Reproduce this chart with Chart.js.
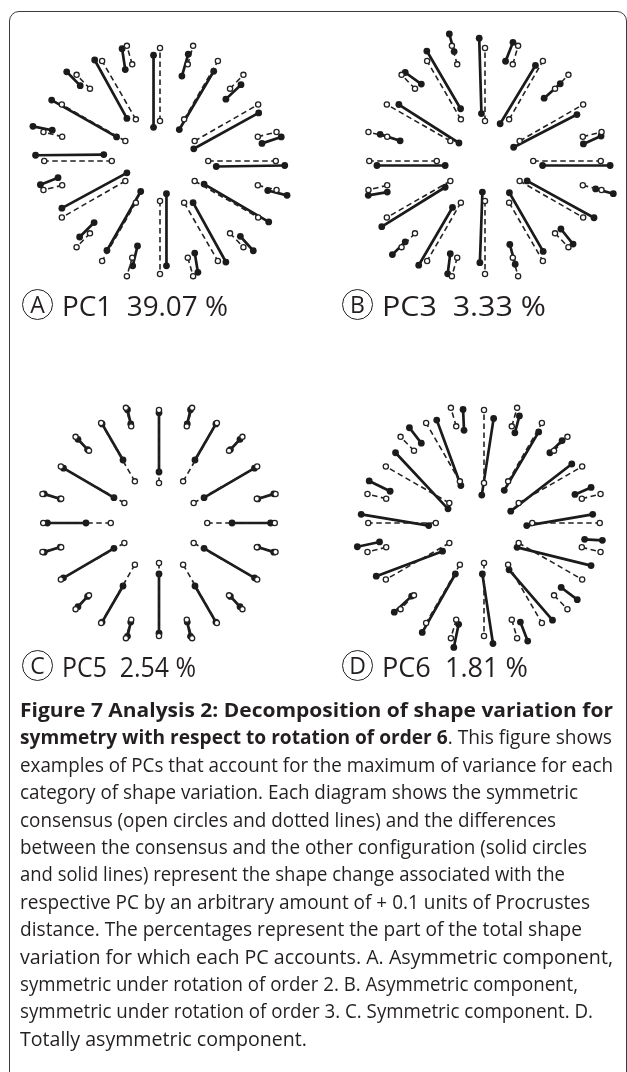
<!DOCTYPE html>
<html>
<head>
<meta charset="utf-8">
<script src="https://cdn.jsdelivr.net/npm/chart.js@4.4.0/dist/chart.umd.min.js"></script>
<style>
  html, body { margin: 0; padding: 0; background: #fff; }
  body { width: 627px; height: 1072px; position: relative; overflow: hidden; font-family: 'Open Sans', sans-serif; color: #231f20; }
  .frame { position: absolute; left: 9px; top: 11px; width: 618px; height: 1120px; box-sizing: border-box; border: 1.5px solid #3a3a3a; border-radius: 10px; }
  .panel { position: absolute; width: 300px; height: 280px; }
  .circ { position: absolute; width: 31px; height: 31px; box-sizing: border-box; border: 1.5px solid #231f20; border-radius: 50%; display: flex; align-items: center; justify-content: center; font-size: 23px; line-height: 1; }
  .pcl { position: absolute; font-size: 28px; line-height: 32px; white-space: nowrap; transform-origin: 0 50%; }
  .cap { position: absolute; left: 20px; font-size: 19.5px; line-height: 26px; white-space: nowrap; transform-origin: 0 50%; }
  .cap b { font-weight: 700; }
</style>
</head>
<body>
<div class="frame"></div>

<canvas id="pA" class="panel" width="300" height="280" style="left:10px;top:21px"></canvas>
<canvas id="pB" class="panel" width="300" height="280" style="left:335px;top:21px"></canvas>
<canvas id="pC" class="panel" width="300" height="280" style="left:9px;top:383px"></canvas>
<canvas id="pD" class="panel" width="300" height="280" style="left:334px;top:383px"></canvas>

<!-- panel labels -->
<div class="circ" style="left:22px;top:289px">A</div>
<div class="pcl fit" data-w="166" style="left:62px;top:289px">PC1&nbsp;&nbsp;39.07 %</div>
<div class="circ" style="left:342px;top:289px">B</div>
<div class="pcl fit" data-w="164" style="left:382px;top:289px">PC3&nbsp;&nbsp;3.33 %</div>
<div class="circ" style="left:22px;top:650px">C</div>
<div class="pcl fit" data-w="134" style="left:62px;top:650px">PC5&nbsp;&nbsp;2.54 %</div>
<div class="circ" style="left:342px;top:650px">D</div>
<div class="pcl fit" data-w="146" style="left:382px;top:650px">PC6&nbsp;&nbsp;1.81 %</div>

<!-- caption, one div per printed line -->
<div class="cap fit" data-w="593" style="top:697px"><b>Figure 7 Analysis 2: Decomposition of shape variation for</b></div>
<div class="cap fit" data-w="592" style="top:724.4px"><b>symmetry with respect to rotation of order 6</b>. This figure shows</div>
<div class="cap fit" data-w="593" style="top:751.8px">examples of PCs that account for the maximum of variance for each</div>
<div class="cap fit" data-w="558" style="top:779.2px">category of shape variation. Each diagram shows the symmetric</div>
<div class="cap fit" data-w="536" style="top:806.6px">consensus (open circles and dotted lines) and the differences</div>
<div class="cap fit" data-w="567" style="top:834px">between the consensus and the other configuration (solid circles</div>
<div class="cap fit" data-w="545" style="top:861.4px">and solid lines) represent the shape change associated with the</div>
<div class="cap fit" data-w="570" style="top:888.8px">respective PC by an arbitrary amount of + 0.1 units of Procrustes</div>
<div class="cap fit" data-w="562" style="top:916.2px">distance. The percentages represent the part of the total shape</div>
<div class="cap fit" data-w="593" style="top:943.6px">variation for which each PC accounts. A. Asymmetric component,</div>
<div class="cap fit" data-w="558" style="top:971px">symmetric under rotation of order 2. B. Asymmetric component,</div>
<div class="cap fit" data-w="573" style="top:998.4px">symmetric under rotation of order 3. C. Symmetric component. D.</div>
<div class="cap fit" data-w="287" style="top:1025.8px">Totally asymmetric component.</div>

<script>
// ===== DATA =====
// landmark directions (degrees) of the 24 spokes, counter-clockwise from the right
const spokeAngles = [0, 14, 30, 46, 60, 74, 90, 106, 120, 134, 150, 166,
                     180, 194, 210, 226, 240, 254, 270, 286, 300, 314, 330, 346];
// symmetric consensus: radius of the inner and outer landmark of each spoke
const consensusInner = [0.50, 1.045, 0.415, 1.045, 0.50, 1.045, 0.415, 1.045,
                        0.50, 1.045, 0.415, 1.045, 0.50, 1.045, 0.415, 1.045,
                        0.50, 1.045, 0.415, 1.045, 0.50, 1.045, 0.415, 1.045];
const consensusOuter = [1.20, 1.245, 1.175, 1.245, 1.20, 1.245, 1.175, 1.245,
                        1.20, 1.245, 1.175, 1.245, 1.20, 1.245, 1.175, 1.245,
                        1.20, 1.245, 1.175, 1.245, 1.20, 1.245, 1.175, 1.245];

// deformed configurations (consensus + 0.1 along the PC), [x, y] per spoke
const pc1Inner = [[0.583,-0.057],[1.057,0.183],[0.35,0.127],[0.683,0.643],[0.2,0.327],[0.227,0.883],
  [-0.067,0.35],[-0.36,0.95],[-0.343,0.443],[-0.827,0.783],[-0.45,0.25],[-1.117,0.32],
  [-0.583,0.067],[-1.057,-0.173],[-0.343,-0.123],[-0.683,-0.64],[-0.2,-0.317],[-0.233,-0.883],
  [0.067,-0.34],[0.36,-0.957],[0.343,-0.433],[0.833,-0.783],[0.457,-0.24],[1.117,-0.307]];
const pc1Outer = [[1.293,-0.047],[1.257,0.25],[1.023,0.5],[0.84,0.793],[0.557,0.933],[0.293,1.11],
  [-0.067,1.1],[-0.393,1.167],[-0.677,1.05],[-0.967,0.927],[-1.123,0.633],[-1.317,0.36],
  [-1.29,0.06],[-1.24,-0.247],[-1.017,-0.49],[-0.833,-0.79],[-0.55,-0.93],[-0.283,-1.09],
  [0.067,-1.09],[0.393,-1.157],[0.683,-1.05],[0.967,-0.933],[1.127,-0.633],[1.317,-0.357]];

const pc3Inner = [[0.597,-0.047],[1.02,0.177],[0.297,0.143],[0.613,0.653],[0.157,0.387],[0.213,1.037],
  [-0.037,0.493],[-0.32,1.137],[-0.253,0.543],[-0.66,0.8],[-0.27,0.187],[-0.88,0.21],
  [-0.413,-0.047],[-1.013,-0.323],[-0.413,-0.273],[-0.827,-0.84],[-0.337,-0.483],[-0.36,-0.963],
  [-0.027,-0.323],[0.257,-0.867],[0.253,-0.33],[0.787,-0.707],[0.437,-0.207],[1.147,-0.29]];
const pc3Outer = [[1.297,-0.047],[1.203,0.26],[0.953,0.483],[0.78,0.803],[0.523,0.993],[0.29,1.233],
  [-0.06,1.277],[-0.37,1.32],[-0.603,1.143],[-0.827,0.92],[-0.893,0.587],[-1.087,0.277],
  [-1.12,-0.047],[-1.21,-0.357],[-1.07,-0.683],[-0.96,-0.973],[-0.687,-1.083],[-0.387,-1.173],
  [-0.053,-1.057],[0.313,-1.073],[0.603,-0.94],[0.913,-0.863],[1.13,-0.59],[1.33,-0.34]];

const pc5Inner = [[0.757,0],[1.023,0.25],[0.467,0.263],[0.74,0.763],[0.373,0.655],[0.293,1.03],
  [0,0.53],[-0.293,1.03],[-0.373,0.655],[-0.74,0.763],[-0.467,0.263],[-1.023,0.25],
  [-0.757,0],[-1.023,-0.25],[-0.467,-0.263],[-0.74,-0.763],[-0.373,-0.655],[-0.293,-1.03],
  [0,-0.53],[0.293,-1.03],[0.373,-0.655],[0.74,-0.763],[0.467,-0.263],[1.023,-0.25]];
const pc5Outer = [[1.157,0],[1.19,0.303],[0.99,0.57],[0.84,0.87],[0.59,1.03],[0.327,1.178],
  [0,1.145],[-0.327,1.178],[-0.59,1.03],[-0.84,0.87],[-0.99,0.57],[-1.19,0.303],
  [-1.157,0],[-1.19,-0.303],[-0.99,-0.57],[-0.84,-0.87],[-0.59,-1.03],[-0.327,-1.178],
  [0,-1.145],[0.327,-1.178],[0.59,-1.03],[0.84,-0.87],[0.99,-0.57],[1.19,-0.303]];

const pc6Inner = [[0.443,-0.027],[0.943,0.297],[0.277,0.123],[0.683,0.73],[0.21,0.34],[0.32,0.937],
  [-0.023,0.29],[-0.207,0.963],[-0.24,0.39],[-0.65,0.83],[-0.373,0.147],[-0.973,0.33],
  [-0.573,-0.027],[-1.083,-0.197],[-0.43,-0.293],[-0.75,-0.76],[-0.297,-0.53],[-0.263,-1.053],
  [-0.017,-0.53],[0.377,-1.03],[0.26,-0.487],[0.8,-0.67],[0.343,-0.253],[1.043,-0.17]];
const pc6Outer = [[1.127,0.09],[1.11,0.37],[0.91,0.613],[0.81,0.857],[0.567,0.947],[0.367,1.113],
  [0.1,1.087],[-0.217,1.18],[-0.49,1.07],[-0.773,0.99],[-0.917,0.73],[-1.19,0.437],
  [-1.273,0.09],[-1.313,-0.247],[-1.117,-0.553],[-0.93,-0.927],[-0.64,-1.137],[-0.313,-1.293],
  [0.093,-1.253],[0.453,-1.227],[0.71,-1.01],[0.967,-0.797],[1.11,-0.443],[1.227,-0.18]];

// ===== BUILD =====
const GAP = { x: null, y: null };

function consensusPoints() {
  const pts = [];
  spokeAngles.forEach((a, i) => {
    const t = a * Math.PI / 180;
    pts.push({ x: consensusInner[i] * Math.cos(t), y: consensusInner[i] * Math.sin(t) });
    pts.push({ x: consensusOuter[i] * Math.cos(t), y: consensusOuter[i] * Math.sin(t) });
    pts.push(GAP);
  });
  return pts;
}

function shapePoints(inner, outer) {
  const pts = [];
  inner.forEach((p, i) => {
    pts.push({ x: p[0], y: p[1] });
    pts.push({ x: outer[i][0], y: outer[i][1] });
    pts.push(GAP);
  });
  return pts;
}

function drawPanel(id, inner, outer) {
  new Chart(document.getElementById(id), {
    type: 'scatter',
    data: {
      datasets: [
        {
          label: 'consensus', data: consensusPoints(), showLine: true, spanGaps: false, order: 0,
          borderColor: '#222', borderWidth: 1.6, borderDash: [5.5, 3.5],
          pointRadius: 2.6, pointBackgroundColor: '#fff', pointBorderColor: '#222', pointBorderWidth: 1.3
        },
        {
          label: 'shape', data: shapePoints(inner, outer), showLine: true, spanGaps: false, order: 1,
          borderColor: '#1b1b1b', borderWidth: 2.7,
          pointRadius: 3.4, pointBackgroundColor: '#1b1b1b', pointBorderColor: '#1b1b1b', pointBorderWidth: 0
        }
      ]
    },
    options: {
      responsive: false, animation: false, devicePixelRatio: 1, events: [],
      layout: { padding: 0 },
      plugins: { legend: { display: false }, tooltip: { enabled: false } },
      scales: {
        x: { type: 'linear', min: -1.5, max: 1.5, display: false },
        y: { type: 'linear', min: -1.4, max: 1.4, display: false }
      }
    }
  });
}

drawPanel('pA', pc1Inner, pc1Outer);
drawPanel('pB', pc3Inner, pc3Outer);
drawPanel('pC', pc5Inner, pc5Outer);
drawPanel('pD', pc6Inner, pc6Outer);

// squeeze each text line to the printed width
document.querySelectorAll('.fit').forEach(el => {
  const w = el.getBoundingClientRect().width;
  el.style.transform = 'scaleX(' + (parseFloat(el.dataset.w) / w).toFixed(4) + ')';
});
</script>
</body>
</html>
